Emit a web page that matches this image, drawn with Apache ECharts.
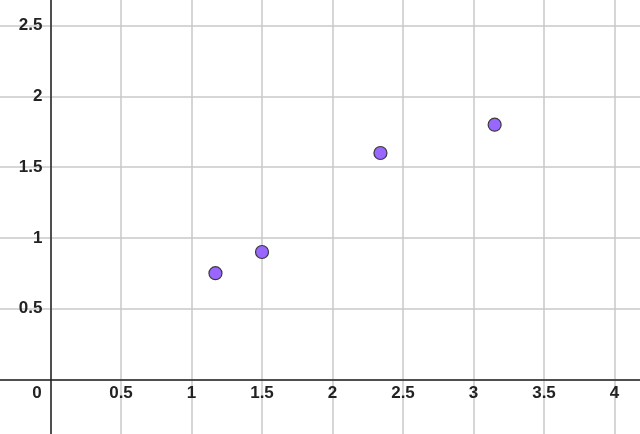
<!DOCTYPE html>
<html><head><meta charset="utf-8">
<script src="https://cdn.jsdelivr.net/npm/echarts@6/dist/echarts.min.js"></script>
<style>html,body{margin:0;padding:0;background:#fff}#c{width:640px;height:434px}</style>
</head><body><div id="c"></div>
<script>
var xValues = [1.17, 1.5, 2.34, 3.15];
var yValues = [0.75, 0.9, 1.6, 1.8];
var xTicks = [0, 0.5, 1, 1.5, 2, 2.5, 3, 3.5, 4];
var yTicks = [0.5, 1, 1.5, 2, 2.5];

var pts = xValues.map(function (x, i) { return [x, yValues[i]]; });
function fmt(v) { return String(Math.round(v * 10) / 10); }
var labelFont = { fontFamily: 'Liberation Sans, Arial, sans-serif', fontWeight: 'bold', fontSize: 17, color: '#222' };

var chart = echarts.init(document.getElementById('c'), null, { renderer: 'canvas' });
chart.setOption({
  animation: false,
  backgroundColor: '#fff',
  grid: { left: -20, right: -45, top: -45, bottom: -16, containLabel: false, outerBoundsMode: 'none' },
  xAxis: {
    type: 'value', min: -0.5, max: 4.5, interval: 0.5,
    offset: -70.7,
    axisLine: { onZero: false, lineStyle: { color: '#222', width: 1.5 } },
    axisTick: { show: false },
    splitLine: { show: true, lineStyle: { color: '#c8c8c8', width: 1.5 } },
    axisLabel: Object.assign({
      margin: 6,
      showMinLabel: true, showMaxLabel: true, hideOverlap: false,
      formatter: function (v) {
        var s = fmt(v);
        if (xTicks.map(fmt).indexOf(s) < 0) return '';
        if (s === '0') return '{z|0}';
        return s;
      },
      rich: { z: Object.assign({ padding: [0, 27, 0, 0] }, labelFont) }
    }, labelFont)
  },
  yAxis: {
    type: 'value', min: -0.5, max: 3, interval: 0.5,
    offset: -70.5,
    axisLine: { onZero: false, lineStyle: { color: '#222', width: 1.5 } },
    axisTick: { show: false },
    splitLine: { show: true, lineStyle: { color: '#c8c8c8', width: 1.5 } },
    axisLabel: Object.assign({
      margin: 8, hideOverlap: false,
      formatter: function (v) {
        var s = fmt(v);
        return yTicks.map(fmt).indexOf(s) < 0 ? '' : s;
      }
    }, labelFont)
  },
  series: [{
    type: 'scatter',
    data: pts,
    symbol: 'circle',
    symbolSize: 13,
    itemStyle: { color: '#9966ff', borderColor: '#3a3a3a', borderWidth: 1.2, opacity: 1 },
    z: 10
  }]
});
</script></body></html>
